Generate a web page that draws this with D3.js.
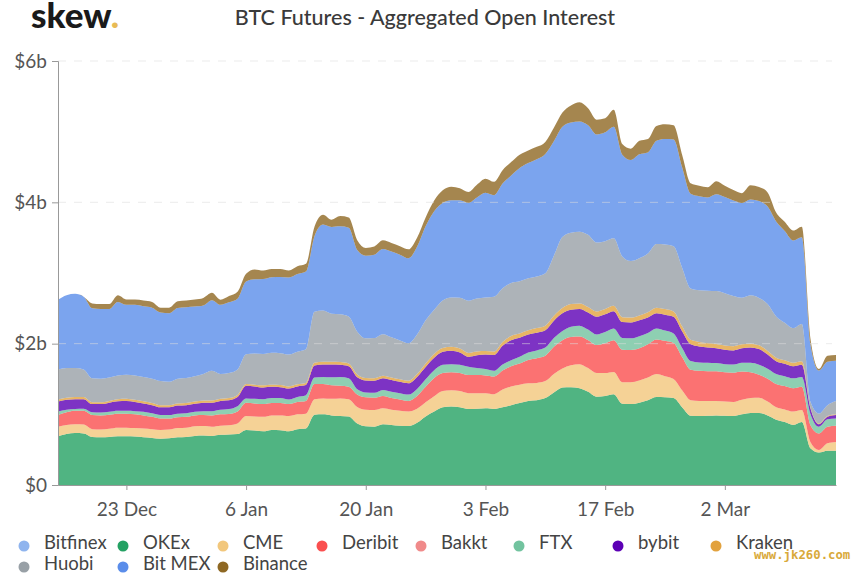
<!DOCTYPE html>
<html>
<head>
<meta charset="utf-8">
<script src="https://cdn.jsdelivr.net/npm/d3@7"></script>
<style>
  html, body { margin: 0; padding: 0; background: #fff; }
  svg { display: block; font-family: Lato, sans-serif; }
</style>
</head>
<body>
<svg id="chart" width="864" height="575"></svg>
<script>
// $ billions per day, 15 Dec to 15 Mar
const okex = [
  .69,.72,.735,.73,.68,.675,.68,.69,.69,.685,
  .675,.665,.655,.66,.675,.68,.695,.70,.695,.71,
  .715,.72,.78,.77,.76,.78,.775,.76,.79,.80,
  .995,1.0,.985,.975,.97,.87,.83,.825,.86,.85,
  .84,.835,.88,.97,1.04,1.10,1.11,1.10,1.075,1.08,
  1.085,1.075,1.10,1.13,1.16,1.19,1.20,1.23,1.31,1.38,
  1.385,1.37,1.32,1.25,1.26,1.285,1.15,1.145,1.165,1.20,
  1.245,1.24,1.23,1.10,.98,.975,.98,.985,.98,.975,
  1.0,1.02,1.02,.985,.925,.89,.85,.89,.52,.46,
  .485,.485]
const cme = [
  .135,.13,.125,.125,.11,.11,.115,.12,.12,.12,
  .125,.125,.125,.125,.13,.13,.135,.135,.13,.13,
  .13,.15,.195,.20,.205,.205,.21,.215,.21,.21,
  .22,.225,.235,.25,.245,.235,.235,.235,.225,.215,
  .21,.205,.20,.20,.215,.23,.23,.23,.225,.22,
  .215,.21,.25,.265,.26,.25,.245,.24,.26,.27,
  .31,.34,.335,.335,.325,.315,.305,.31,.315,.32,
  .325,.30,.27,.24,.22,.215,.21,.205,.20,.20,
  .205,.21,.215,.195,.175,.18,.19,.17,.09,.035,
  .105,.125]
const deribit = [
  .165,.18,.19,.195,.20,.20,.20,.20,.20,.195,
  .185,.175,.16,.155,.155,.155,.155,.155,.16,.16,
  .16,.17,.19,.185,.18,.175,.175,.17,.175,.18,
  .215,.205,.19,.18,.175,.175,.175,.175,.175,.165,
  .16,.15,.18,.22,.26,.255,.255,.255,.255,.255,
  .25,.25,.27,.285,.30,.33,.35,.36,.385,.40,
  .40,.39,.395,.395,.42,.45,.46,.455,.455,.47,
  .49,.50,.51,.47,.43,.425,.42,.42,.415,.415,
  .40,.365,.325,.325,.33,.33,.33,.33,.24,.235,
  .235,.23]
const ftx = [
  .05,.035,.025,.03,.04,.04,.04,.04,.04,.045,
  .05,.05,.05,.05,.05,.05,.05,.055,.06,.065,
  .07,.075,.06,.065,.07,.07,.07,.065,.07,.08,
  .09,.10,.115,.125,.12,.075,.07,.07,.085,.09,
  .09,.09,.10,.105,.11,.115,.115,.115,.118,.10,
  .09,.08,.085,.085,.095,.105,.11,.115,.125,.13,
  .145,.155,.15,.15,.16,.165,.165,.165,.17,.16,
  .155,.145,.135,.13,.125,.12,.12,.115,.115,.115,
  .125,.135,.143,.14,.14,.14,.14,.14,.16,.095,
  .105,.10]
const bybit = [
  .14,.14,.14,.135,.115,.12,.13,.135,.14,.13,
  .12,.115,.11,.11,.115,.115,.115,.12,.12,.125,
  .125,.13,.18,.175,.165,.16,.155,.155,.15,.145,
  .17,.175,.18,.17,.17,.17,.17,.17,.165,.165,
  .16,.16,.17,.175,.175,.185,.19,.175,.14,.18,
  .205,.225,.265,.285,.27,.255,.25,.245,.245,.25,
  .24,.235,.24,.25,.25,.245,.225,.225,.225,.22,
  .215,.225,.235,.235,.235,.225,.215,.21,.205,.20,
  .205,.215,.22,.20,.18,.175,.17,.17,.08,.035,
  .035,.05]
const kraken = [
  .03,.03,.03,.03,.025,.025,.025,.03,.03,.03,
  .03,.03,.03,.03,.03,.03,.03,.03,.03,.03,
  .03,.03,.025,.025,.03,.03,.03,.03,.03,.03,
  .04,.04,.04,.04,.04,.04,.035,.035,.035,.035,
  .035,.035,.04,.05,.055,.055,.055,.055,.055,.055,
  .05,.05,.055,.06,.06,.06,.065,.065,.07,.075,
  .08,.08,.08,.075,.075,.075,.07,.07,.07,.075,
  .08,.08,.075,.07,.065,.065,.06,.06,.06,.06,
  .055,.055,.055,.05,.05,.05,.05,.05,.01,.01,
  .01,.01]
const huobi = [
  .42,.42,.41,.39,.34,.335,.33,.335,.34,.345,
  .345,.345,.34,.33,.35,.355,.36,.375,.42,.35,
  .355,.36,.42,.44,.445,.45,.45,.45,.46,.475,
  .72,.725,.68,.675,.665,.605,.56,.57,.59,.57,
  .55,.53,.56,.61,.625,.67,.70,.72,.74,.75,
  .76,.775,.76,.75,.74,.735,.73,.74,.85,1.005,
  1.01,1.015,1.02,.975,.96,.955,.86,.80,.81,.83,
  .90,.915,.925,.83,.725,.73,.745,.75,.74,.71,
  .66,.685,.67,.665,.585,.53,.49,.53,.08,.14,
  .155,.19]
const bitmex = [
  .99,1.03,1.05,1.03,.99,.985,.97,1.04,.99,1.0,
  1.0,1.005,.97,.97,1.0,1.0,.985,.97,1.0,.98,
  1.0,1.0,1.03,1.05,1.06,1.07,1.08,1.09,1.10,1.10,
  1.07,1.215,1.225,1.245,1.255,1.155,1.17,1.18,1.205,1.215,
  1.215,1.205,1.24,1.33,1.395,1.38,1.375,1.38,1.385,1.43,
  1.48,1.435,1.48,1.52,1.60,1.63,1.66,1.69,1.62,1.56,
  1.56,1.56,1.55,1.53,1.54,1.58,1.44,1.43,1.47,1.43,
  1.46,1.49,1.51,1.42,1.34,1.33,1.32,1.37,1.36,1.35,
  1.34,1.355,1.37,1.38,1.345,1.30,1.24,1.225,.82,.61,
  .615,.57]
const binance = [
  0,0,0,0,.07,.07,.07,.095,.075,.075,
  .08,.08,.07,.08,.095,.095,.10,.108,.105,.073,
  .09,.10,.11,.14,.12,.115,.11,.10,.11,.11,
  .135,.14,.105,.145,.145,.14,.11,.115,.122,.12,
  .12,.125,.13,.125,.15,.18,.19,.17,.155,.18,
  .20,.19,.19,.19,.19,.18,.175,.17,.19,.20,
  .24,.27,.24,.21,.20,.24,.15,.16,.19,.19,
  .21,.21,.20,.18,.15,.15,.145,.185,.16,.15,
  .14,.20,.20,.20,.125,.13,.14,.15,.08,.02,
  .085,.08]

// stack order, bottom to top. Bitfinex and Bakkt are too thin to see, so legend only
const stacked = {OKEx: okex, CME: cme, Deribit: deribit, FTX: ftx, bybit: bybit, Kraken: kraken, Huobi: huobi, 'Bit MEX': bitmex, Binance: binance}
const legendRows = [
  ['Bitfinex', 'OKEx', 'CME', 'Deribit', 'Bakkt', 'FTX', 'bybit', 'Kraken'],
  ['Huobi', 'Bit MEX', 'Binance']
]
const colors = {
  Bitfinex: '#8fb4ee', OKEx: '#24a163', CME: '#f2c77c', Deribit: '#fa4f4f', Bakkt: '#f08a8a', FTX: '#72c39f',
  bybit: '#5c00b5', Kraken: '#e2a23e', Huobi: '#98a0a6', 'Bit MEX': '#5a8dea', Binance: '#8e6823'
}
const yTicks = [0, 2, 4, 6]
const xTickDates = ['2019-12-23', '2020-01-06', '2020-01-20', '2020-02-03', '2020-02-17', '2020-03-02']
const xTickLabels = ['23 Dec', '6 Jan', '20 Jan', '3 Feb', '17 Feb', '2 Mar']

const startDay = new Date('2019-12-15T00:00:00Z')
const endDay = new Date('2020-03-15T00:00:00Z')
const days = d3.utcDay.range(startDay, d3.utcDay.offset(endDay, 1))

const keys = Object.keys(stacked)
const rows = days.map((day, i) => {
  const row = {day}
  keys.forEach(k => { row[k] = stacked[k][i] })
  return row
})

const svg = d3.select('#chart')
const plot = {left: 58, right: 836, top: 61, bottom: 485}

const x = d3.scaleUtc().domain([startDay, endDay]).range([plot.left, plot.right])
const y = d3.scaleLinear().domain([0, 6]).range([plot.bottom, plot.top])

const area = d3.area()
  .x((d, i) => x(days[i]))
  .y0(d => y(d[0]))
  .y1(d => y(d[1]))
  .curve(d3.curveMonotoneX)

svg.append('g')
  .selectAll('path')
  .data(d3.stack().keys(keys)(rows))
  .join('path')
  .attr('d', area)
  .attr('fill', d => colors[d.key])
  .attr('fill-opacity', 0.8)

// dashed grid sits on top of the areas, only just visible there
svg.append('g')
  .selectAll('line')
  .data(yTicks.filter(t => t > 0))
  .join('line')
  .attr('x1', plot.left)
  .attr('x2', 832)
  .attr('y1', d => y(d))
  .attr('y2', d => y(d))
  .attr('stroke', '#dcdcdc')
  .attr('stroke-opacity', 0.55)
  .attr('stroke-dasharray', '8 8')

const yAxis = svg.append('g')
  .attr('transform', `translate(${plot.left},0)`)
  .call(d3.axisLeft(y).tickValues(yTicks).tickFormat(d => d === 0 ? '$0' : `$${d}b`).tickSize(6).tickPadding(5))
const xAxis = svg.append('g')
  .attr('transform', `translate(0,${plot.bottom})`)
  .call(d3.axisBottom(x)
    .tickValues(xTickDates.map(d => new Date(d + 'T00:00:00Z')))
    .tickFormat((d, i) => xTickLabels[i])
    .tickSize(5).tickSizeOuter(0).tickPadding(13))

for (const axis of [yAxis, xAxis]) {
  axis.selectAll('.domain, .tick line').attr('stroke', '#999')
  axis.selectAll('text').attr('fill', '#555').style('font-family', 'Lato, sans-serif').style('font-size', '19px')
}

svg.append('text')
  .attr('x', 425).attr('y', 25)
  .attr('text-anchor', 'middle')
  .attr('fill', '#3a3a3a')
  .style('font-size', '21.5px')
  .style('font-weight', 500)
  .text('BTC Futures - Aggregated Open Interest')

const logo = svg.append('text')
  .attr('x', 31).attr('y', 28)
  .attr('fill', '#1a1a1a')
  .style('font-size', '35px')
  .style('font-weight', 900)
logo.append('tspan').text('skew')
logo.append('tspan').attr('fill', '#e8bb55').text('.')

const legendDotX = [24, 123, 223, 322, 421, 519, 618, 716]
const legendRowY = [546, 567]
legendRows.forEach((names, r) => {
  const item = svg.append('g')
    .selectAll('g')
    .data(names)
    .join('g')
    .attr('transform', (d, i) => `translate(${legendDotX[i]},${legendRowY[r]})`)
  item.append('circle')
    .attr('r', 5.5)
    .attr('fill', d => colors[d])
  item.append('text')
    .attr('x', 20).attr('y', 3)
    .attr('fill', '#444')
    .style('font-size', '18.5px')
    .text(d => d)
})

svg.append('text')
  .attr('x', 754).attr('y', 559)
  .attr('fill', '#d9a93a')
  .style('font-family', '"DejaVu Sans Mono", monospace')
  .style('font-size', '12.3px')
  .style('font-weight', 700)
  .text('www.jk260.com')
</script>
</body>
</html>
